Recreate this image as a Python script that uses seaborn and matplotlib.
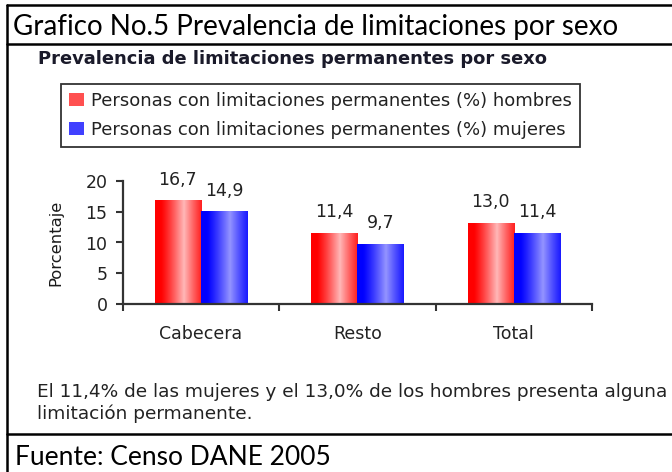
import numpy as np
import pandas as pd
import seaborn as sns
import matplotlib.pyplot as plt
from matplotlib.lines import Line2D
from matplotlib.patches import Patch

# Datos (Censo DANE 2005)
zonas = ["Cabecera", "Resto", "Total"]
hombres = [16.7, 11.4, 13.0]
mujeres = [14.9, 9.7, 11.4]
series = ["Personas con limitaciones permanentes (%) hombres",
          "Personas con limitaciones permanentes (%) mujeres"]
y_ticks = [0, 5, 10, 15, 20]

encabezado = "Grafico No.5 Prevalencia de limitaciones por sexo"
titulo = "Prevalencia de limitaciones permanentes por sexo"
nota = ["El 11,4% de las mujeres y el 13,0% de los hombres presenta alguna",
        "limitación permanente."]
fuente = "Fuente: Censo DANE 2005"

df = pd.DataFrame({
    "zona": zonas * 2,
    "sexo": [series[0]] * len(zonas) + [series[1]] * len(zonas),
    "valor": hombres + mujeres,
})

sns.set_theme(style="white")
plt.rcParams["font.family"] = ["DejaVu Sans"]

W, H = 672, 472
fig = plt.figure(figsize=(W / 100, H / 100), dpi=100)
fig.patch.set_facecolor("white")


def px(x, y):
    return x / W, 1 - y / H


# ejes del grafico
x0, x1, y0, y1 = 122.7, 592, 304.3, 180.7
ax = fig.add_axes([x0 / W, 1 - y0 / H, (x1 - x0) / W, (y0 - y1) / H])

colores = {series[0]: "#ff2020", series[1]: "#2020ff"}
sns.barplot(data=df, x="zona", y="valor", hue="sexo", hue_order=series,
            palette=colores, width=0.59, saturation=1, legend=False,
            edgecolor="none", ax=ax)

# degradado horizontal en cada barra
t = np.linspace(0, 1, 64)
peso = np.clip(1 - np.abs(t - 0.62) / 0.5, 0, 1) ** 1.2
grad_r = np.stack([np.ones_like(t), 0.72 * peso, 0.72 * peso], axis=1)[None]
grad_b = np.stack([0.58 * peso, 0.58 * peso, np.ones_like(t)], axis=1)[None]
for cont, grad in zip(ax.containers, [grad_r, grad_b]):
    for bar in cont:
        bx, bw, bh = bar.get_x(), bar.get_width(), bar.get_height()
        ax.imshow(grad, extent=(bx, bx + bw, 0, bh), aspect="auto",
                  interpolation="bilinear", zorder=bar.get_zorder() + 0.1)

ax.set_xlim(-0.5, 2.5)
ax.set_ylim(0, 20)

# etiquetas de datos
for cont, vals in zip(ax.containers, [hombres, mujeres]):
    ax.bar_label(cont, labels=[f"{v:.1f}".replace(".", ",") for v in vals],
                 padding=9, fontsize=12.5, color="#222222")

for s in ["top", "right"]:
    ax.spines[s].set_visible(False)
for s in ["left", "bottom"]:
    ax.spines[s].set_color("#333333")
    ax.spines[s].set_linewidth(1.6)

ax.set_yticks(y_ticks)
ax.tick_params(axis="y", direction="out", length=5, width=1.5, color="#333333",
               labelsize=12.5, labelcolor="#222222", pad=6, left=True)
ax.set_xticks([-0.5, 0.5, 1.5, 2.5])
ax.set_xticklabels([])
ax.set_xticks(range(len(zonas)), minor=True)
ax.set_xticklabels(zonas, minor=True)
ax.tick_params(axis="x", which="major", direction="out", length=5, width=1.5,
               color="#333333", bottom=True)
ax.tick_params(axis="x", which="minor", length=0, pad=15, labelsize=12.5,
               labelcolor="#222222")
ax.set_xlabel("")
ax.set_ylabel("Porcentaje", fontsize=11.8, color="#1a1a1a")
ax.yaxis.set_label_coords((63 - x0) / (x1 - x0), 0.5)
ax.grid(False)

# leyenda
handles = [Patch(facecolor="#ff5050", edgecolor="none"),
           Patch(facecolor="#4040ff", edgecolor="none")]
leg = fig.legend(handles, series, loc="upper left", bbox_to_anchor=px(61, 84),
                 frameon=True, fancybox=False, edgecolor="#333333",
                 framealpha=1, fontsize=13, borderpad=0.45, labelspacing=0.6,
                 handlelength=0.85, handleheight=0.7, handletextpad=0.35,
                 borderaxespad=0)
leg.get_frame().set_linewidth(1.3)
for txt in leg.get_texts():
    txt.set_color("#222222")

# marco de la tabla
lw = 1.8
fig.add_artist(Line2D([7 / W, 1], [1 - 5 / H] * 2, color="black", lw=lw))
fig.add_artist(Line2D([7 / W, 1], [1 - 44 / H] * 2, color="black", lw=lw))
fig.add_artist(Line2D([7 / W, 1], [1 - 434 / H] * 2, color="black", lw=lw))
fig.add_artist(Line2D([7 / W] * 2, [0, 1 - 5 / H], color="black", lw=lw))

fig.text(*px(13, 35), encabezado, fontsize=20, va="baseline",
         family=["Lato", "DejaVu Sans"], color="black")
fig.text(*px(38, 64), titulo, fontsize=12.9, fontweight="bold", va="baseline",
         color="#1a1a2a")
fig.text(*px(37, 397), nota[0], fontsize=13.3, va="baseline", color="#222222")
fig.text(*px(37, 419), nota[1], fontsize=13.3, va="baseline", color="#222222")
fig.text(*px(15, 465), fuente, fontsize=19, va="baseline",
         family=["Lato", "DejaVu Sans"], color="black")

fig.savefig("out.png", dpi=100)
